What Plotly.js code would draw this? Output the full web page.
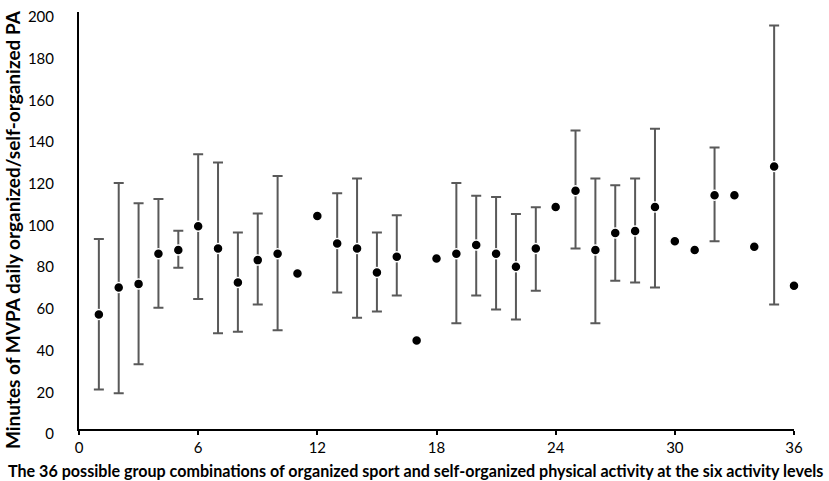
<!DOCTYPE html>
<html>
<head>
<meta charset="utf-8">
<script src="https://cdn.plot.ly/plotly-3.0.1.min.js"></script>
<style>html,body{margin:0;padding:0;background:#fff;}#chart{width:829px;height:481px;}</style>
</head>
<body>
<div id="chart"></div>
<script>
// Group combination number (x)
const groups = [1,2,3,4,5,6,7,8,9,10,11,12,13,14,15,16,17,18,19,20,21,22,23,24,25,26,27,28,29,30,31,32,33,34,35,36];
// Mean minutes of MVPA
const meanMVPA = [54.9,67.9,69.6,84.1,85.8,97.2,86.6,70.3,81.0,84.1,74.6,102.2,89.0,86.6,75.1,82.6,42.5,81.8,84.1,88.2,84.1,77.8,86.6,106.5,114.3,85.8,94.0,95.0,106.5,90.1,85.8,112.1,112.1,87.4,125.9,68.7];
// Upper and lower ends of error bars (null = no bar drawn)
const upperBar = [91.1,118.0,108.3,110.3,95.1,131.8,127.8,94.3,103.3,121.4,null,null,113.1,120.1,94.3,102.5,null,null,118.0,111.9,111.3,103.1,106.3,null,143.2,120.1,116.9,120.1,144.0,null,null,135.0,null,null,193.5,null];
const lowerBar = [19.0,17.2,31.0,58.1,77.3,62.3,45.9,46.7,59.7,47.4,null,null,65.5,53.3,56.3,64.0,null,null,50.7,64.0,57.3,52.5,66.3,null,86.6,50.7,71.1,70.3,67.9,null,null,90.0,null,null,59.7,null];
// Tick labels and axis titles
const xTickVals = [0,6,12,18,24,30,36];
const yTickVals = [0,20,40,60,80,100,120,140,160,180,200];
const xTitle = 'The 36 possible group combinations of organized sport and self-organized physical activity at the six activity levels';
const yTitle = 'Minutes of MVPA daily organized/self-organized PA';

const withBar = groups.map((g,i)=>i).filter(i=>upperBar[i]!==null);
const noBar = groups.map((g,i)=>i).filter(i=>upperBar[i]===null);

const markerStyle = {color:'#000000', size:10, line:{color:'#ffffff', width:1.5}};

const traceBars = {
  type:'scatter', mode:'markers', cliponaxis:false,
  x: withBar.map(i=>groups[i]),
  y: withBar.map(i=>meanMVPA[i]),
  marker: markerStyle,
  error_y: {
    type:'data', symmetric:false,
    array: withBar.map(i=>upperBar[i]-meanMVPA[i]),
    arrayminus: withBar.map(i=>meanMVPA[i]-lowerBar[i]),
    color:'#595959', thickness:2, width:5
  },
  hoverinfo:'x+y'
};
const tracePlain = {
  type:'scatter', mode:'markers', cliponaxis:false,
  x: noBar.map(i=>groups[i]),
  y: noBar.map(i=>meanMVPA[i]),
  marker: markerStyle,
  hoverinfo:'x+y'
};

const fontFam = 'Lato, "Open Sans", sans-serif';
const layout = {
  width:829, height:481,
  margin:{l:79, r:35, t:12, b:52},
  paper_bgcolor:'#ffffff', plot_bgcolor:'#ffffff',
  showlegend:false,
  font:{family:fontFam, color:'#000000'},
  xaxis:{
    range:[0,36], tickmode:'array', tickvals:xTickVals, ticktext:xTickVals.map(String),
    showline:true, linecolor:'#000000', linewidth:2,
    ticks:'outside', ticklen:4, tickwidth:2, tickcolor:'#000000',
    showgrid:false, zeroline:false,
    tickfont:{size:15, family:fontFam, color:'#000000'},
    fixedrange:true
  },
  yaxis:{
    range:[0,200], tickmode:'array', tickvals:yTickVals, ticktext:yTickVals.map(String),
    showline:true, linecolor:'#000000', linewidth:2,
    ticks:'', ticklabelstandoff:20, ticklabelshift:5,
    showgrid:false, zeroline:false,
    tickfont:{size:15, family:fontFam, color:'#000000'},
    fixedrange:true
  },
  annotations:[
    {text:'<b>'+xTitle+'</b>', xref:'paper', yref:'paper', x:0.4706, y:-0.0998,
     xanchor:'center', yanchor:'middle', showarrow:false,
     font:{size:16.1, family:fontFam, color:'#000000'}},
    {text:'<b>'+yTitle+'</b>', xref:'paper', yref:'paper', x:-0.0937, y:0.477,
     xanchor:'center', yanchor:'middle', showarrow:false, textangle:-90,
     font:{size:19, family:fontFam, color:'#000000'}}
  ]
};

Plotly.newPlot('chart', [traceBars, tracePlain], layout, {displayModeBar:false, staticPlot:true});
</script>
</body>
</html>
